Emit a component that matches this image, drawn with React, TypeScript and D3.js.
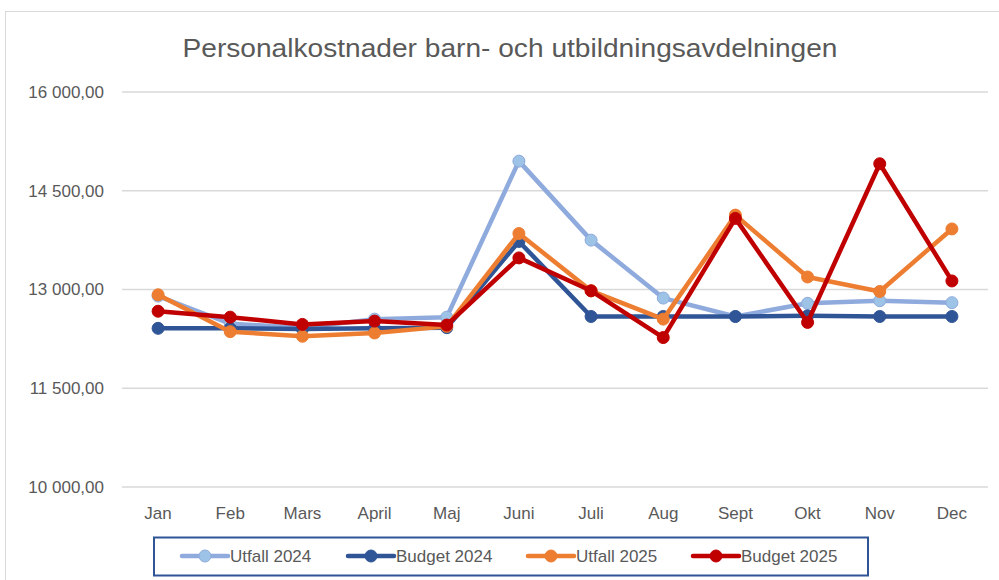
import React from 'react';
import * as d3 from 'd3';

const months = ['Jan', 'Feb', 'Mars', 'April', 'Maj', 'Juni', 'Juli', 'Aug', 'Sept', 'Okt', 'Nov', 'Dec'];
const yTicks = [10000, 11500, 13000, 14500, 16000];

const utfall2024 = [12900, 12480, 12420, 12550, 12580, 14950, 13750, 12870, 12590, 12790, 12830, 12800];
const budget2024 = [12410, 12410, 12400, 12410, 12420, 13730, 12590, 12590, 12590, 12600, 12590, 12590];
const utfall2025 = [12920, 12360, 12290, 12340, 12440, 13850, 12980, 12550, 14130, 13190, 12970, 13920];
const budget2025 = [12670, 12580, 12470, 12520, 12460, 13480, 12980, 12270, 14080, 12500, 14910, 13130];

const seriesNames = ['Utfall 2024', 'Budget 2024', 'Utfall 2025', 'Budget 2025'];

const W = 999;
const H = 580;
const FONT = '"Liberation Sans", Arial, sans-serif';

const sv = d3.formatLocale({ decimal: ',', thousands: '\u00a0', grouping: [3], currency: ['', ''] });
const fmt = sv.format(',.2f');

const App = () => {
  const margin = { top: 92, right: 11, bottom: 93, left: 122 };

  const x = d3.scaleBand()
    .domain(months)
    .range([margin.left, W - margin.right]);

  const y = d3.scaleLinear()
    .domain([10000, 16000])
    .range([H - margin.bottom, margin.top]);

  const series = [
    { name: seriesNames[0], values: utfall2024, color: '#8FAADC', fill: '#9DC3E6' },
    { name: seriesNames[1], values: budget2024, color: '#2F5597', fill: '#2F5597' },
    { name: seriesNames[2], values: utfall2025, color: '#ED7D31', fill: '#ED7D31' },
    { name: seriesNames[3], values: budget2025, color: '#C00000', fill: '#C00000' },
  ];

  const cx = (m: string) => (x(m) as number) + x.bandwidth() / 2;

  const line = d3.line<number>()
    .x((_, i) => cx(months[i]))
    .y(d => y(d));

  // legend: start of each sample line
  const legendX = [182, 348, 528, 693];
  const legendY = 556;

  return (
    <svg width={W} height={H} style={{ position: 'fixed', left: 0, top: 0, background: '#fff' }}>
      <rect x={5.5} y={11.5} width={W + 10} height={H + 10} fill="#fff" stroke="#D9D9D9" />
      <text x={510} y={57} textAnchor="middle" fontFamily={FONT} fontSize={26} fill="#595959"
        textLength={655} lengthAdjust="spacingAndGlyphs">
        Personalkostnader barn- och utbildningsavdelningen
      </text>

      {yTicks.map(t => (
        <g key={t}>
          <line x1={margin.left} x2={W - margin.right} y1={y(t)} y2={y(t)} stroke="#D9D9D9" strokeWidth={1.5} />
          <text x={104} y={y(t)} dy="0.35em" textAnchor="end" fontFamily={FONT} fontSize={17} fill="#595959">
            {fmt(t)}
          </text>
        </g>
      ))}

      {months.map(m => (
        <text key={m} x={cx(m)} y={519} textAnchor="middle" fontFamily={FONT} fontSize={17} fill="#595959">
          {m}
        </text>
      ))}

      {series.map(s => (
        <g key={s.name}>
          <path d={line(s.values) || ''} fill="none" stroke={s.color} strokeWidth={4.5} strokeLinejoin="round" strokeLinecap="round" />
          {s.values.map((v, i) => (
            <circle key={i} cx={cx(months[i])} cy={y(v)} r={6} fill={s.fill} stroke={s.color} strokeWidth={1} />
          ))}
        </g>
      ))}

      <rect x={154} y={537.5} width={714} height={38} fill="none" stroke="#2F5597" strokeWidth={2} />
      {series.map((s, i) => (
        <g key={s.name}>
          <line x1={legendX[i]} x2={legendX[i] + 46} y1={legendY} y2={legendY} stroke={s.color} strokeWidth={4.5} strokeLinecap="round" />
          <circle cx={legendX[i] + 23} cy={legendY} r={6} fill={s.fill} stroke={s.color} strokeWidth={1} />
          <text x={legendX[i] + 48} y={legendY} dy="0.35em" fontFamily={FONT} fontSize={17} fill="#595959">
            {s.name}
          </text>
        </g>
      ))}
    </svg>
  );
};

export default App;
